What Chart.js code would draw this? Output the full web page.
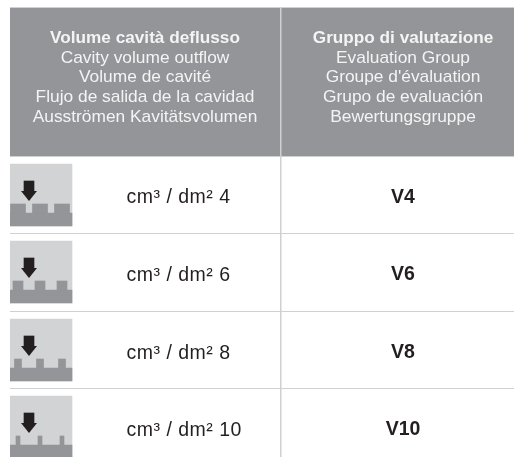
<!DOCTYPE html>
<html>
<head>
<meta charset="utf-8">
<title>Volume cavità deflusso</title>
<script src="https://cdn.jsdelivr.net/npm/chart.js@4"></script>
<style>
  html, body { margin: 0; padding: 0; background: #fff; }
  canvas { display: block; }
</style>
</head>
<body>
<canvas id="table" width="514" height="457"></canvas>
<script>
// Table content
const headerLeft = ['Volume cavità deflusso', 'Cavity volume outflow', 'Volume de cavité', 'Flujo de salida de la cavidad', 'Ausströmen Kavitätsvolumen'];
const headerRight = ['Gruppo di valutazione', 'Evaluation Group', "Groupe d'évaluation", 'Grupo de evaluación', 'Bewertungsgruppe'];
const volumes = [4, 6, 8, 10];
const groups = ['V4', 'V6', 'V8', 'V10'];
const toothWidths = [15, 10, 7, 4];

// Layout, in page units: the x and y scales run over the page itself
const rowLines = [156, 233.5, 311, 388.5];
const iconTops = [164, 241, 319, 396];
const toothCenters = [18, 40, 62];
const valueBaselines = [203, 281, 359, 436];
const groupBaselines = [203, 280, 358, 435];
const headerBaselines = [43, 62.5, 82, 102, 122];

const GREY = '#939598', LIGHT = '#d1d3d4', LINE = '#cfd0d1', DARK = '#231f20';

// arrow head, wider than the built in triangle
const arrowHead = document.createElement('canvas');
arrowHead.width = 16;
arrowHead.height = 10;
const hc = arrowHead.getContext('2d');
hc.fillStyle = DARK;
hc.beginPath();
hc.moveTo(0, 0);
hc.lineTo(16, 0);
hc.lineTo(8, 10);
hc.fill();

function bars(data, color, width, order){
  return { type: 'bar', data, backgroundColor: color, barThickness: width, grouped: false, order };
}

const datasets = [
  bars([{ x: 262, y: [8, 156] }], GREY, 504, 10),
  bars(iconTops.map(t => ({ x: 41, y: [t, t + 62] })), LIGHT, 62, 9),
  bars(iconTops.map(t => ({ x: 41, y: [t + 49, t + 62] })), GREY, 62, 8),
  bars(iconTops.map(t => ({ x: 29, y: [t + 17, t + 29] })), DARK, 10, 6),
  {
    type: 'scatter',
    data: iconTops.map(t => ({ x: 29, y: t + 32 })),
    pointStyle: arrowHead,
    order: 5
  }
];
// one dataset per row, the tooth width is the only thing that changes
toothWidths.forEach((w, i) => {
  const data = toothCenters.map(x => ({ x, y: [iconTops[i] + 40, iconTops[i] + 49] }));
  datasets.push(bars(data, GREY, w, 7));
});

const tableText = {
  id: 'tableText',
  afterDraw(chart){
    const { ctx, scales: { x, y } } = chart;
    ctx.save();
    ctx.textBaseline = 'alphabetic';

    // header
    ctx.textAlign = 'center';
    ctx.fillStyle = '#f4f4f5';
    headerBaselines.forEach((b, i) => {
      ctx.font = (i === 0 ? 'bold 17.2px' : '17.35px') + ' "Liberation Sans"';
      ctx.fillText(headerLeft[i], x.getPixelForValue(145), y.getPixelForValue(b));
      ctx.fillText(headerRight[i], x.getPixelForValue(403), y.getPixelForValue(b));
    });

    // rows
    ctx.fillStyle = DARK;
    volumes.forEach((v, i) => {
      ctx.textAlign = 'left';
      ctx.font = '19.5px "Liberation Sans"';
      ctx.letterSpacing = '0.5px';
      ctx.fillText(`cm³ / dm² ${v}`, x.getPixelForValue(126.5), y.getPixelForValue(valueBaselines[i]));
      ctx.letterSpacing = '0px';
      ctx.textAlign = 'center';
      ctx.font = 'bold 19.5px "Liberation Sans"';
      ctx.fillText(groups[i], x.getPixelForValue(403), y.getPixelForValue(groupBaselines[i]));
    });
    ctx.restore();
  }
};

new Chart(document.getElementById('table'), {
  type: 'bar',
  data: { datasets },
  plugins: [tableText],
  options: {
    responsive: false,
    animation: false,
    layout: { autoPadding: false, padding: { left: 10, top: 7 } },
    plugins: { legend: { display: false }, tooltip: { enabled: false } },
    scales: {
      x: {
        type: 'linear', min: 10, max: 514, offset: false,
        afterBuildTicks: s => { s.ticks = [{ value: 280.5 }]; },
        ticks: { display: false },
        border: { display: false },
        grid: { offset: false, color: LINE, lineWidth: 1.5, drawTicks: false, z: 1 }
      },
      y: {
        type: 'linear', min: 7, max: 457, reverse: true,
        afterBuildTicks: s => { s.ticks = [7.5].concat(rowLines).map(value => ({ value })); },
        ticks: { display: false },
        border: { display: false },
        grid: { color: LINE, lineWidth: 1, drawTicks: false, z: 1 }
      }
    }
  }
});
</script>
</body>
</html>
